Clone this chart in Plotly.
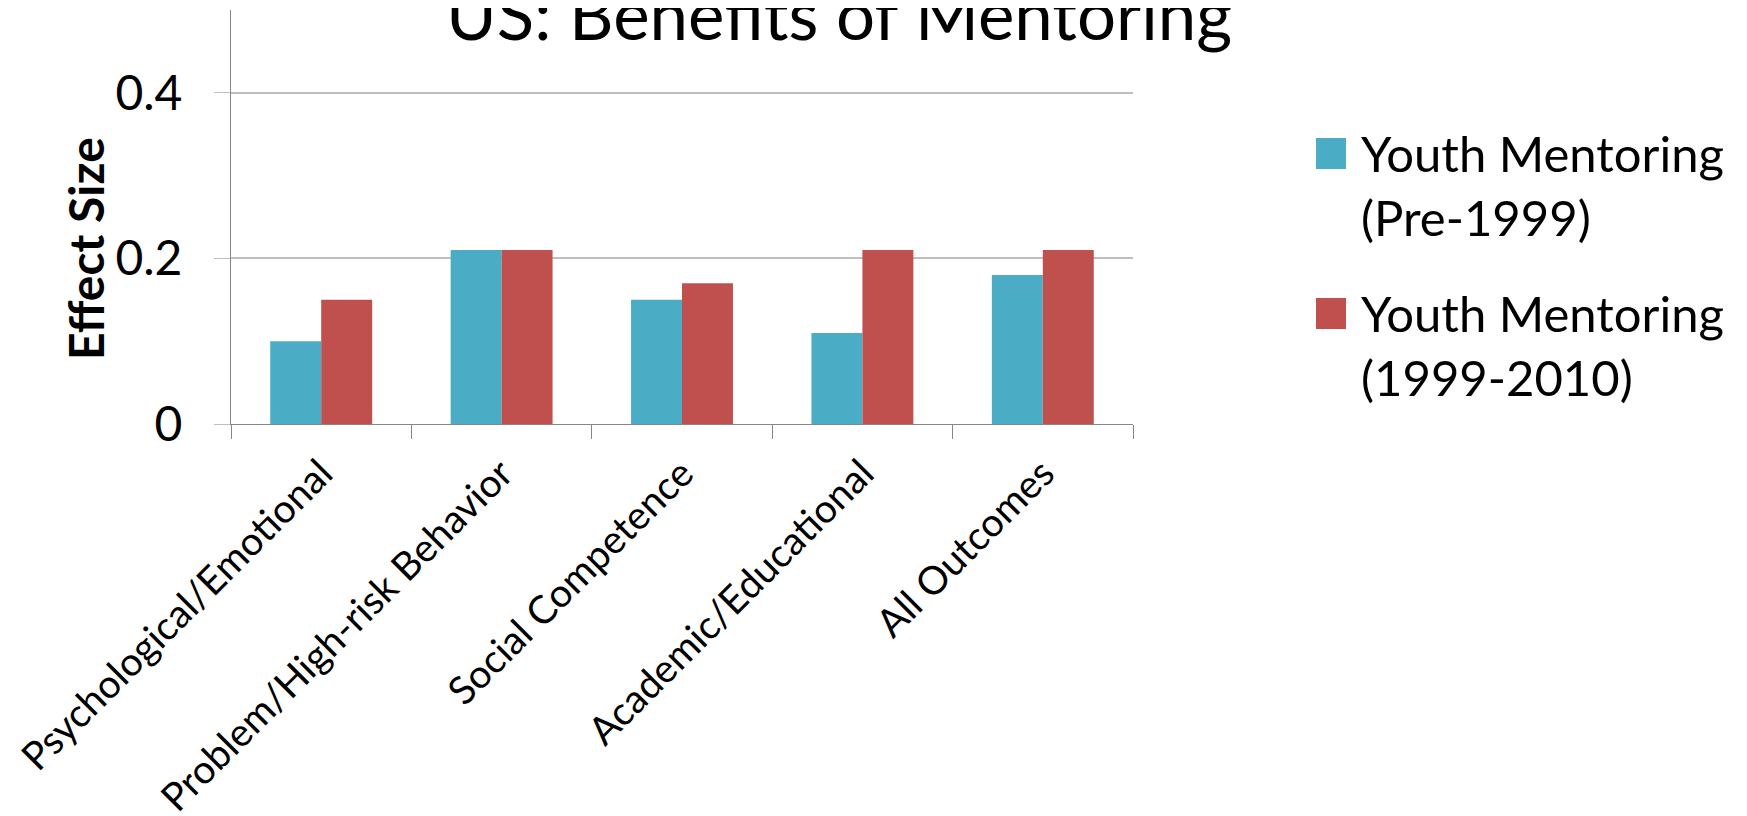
import plotly.graph_objects as go

categories = ["Psychological/Emotional", "Problem/High-risk Behavior",
              "Social Competence", "Academic/Educational", "All Outcomes"]
series_names = ["Youth Mentoring<br>(Pre-1999)", "Youth Mentoring<br>(1999-2010)"]
pre_1999 = [0.10, 0.21, 0.15, 0.11, 0.18]
y1999_2010 = [0.15, 0.21, 0.17, 0.21, 0.21]
series_values = [pre_1999, y1999_2010]
colors = ["#4BACC6", "#C0504D"]
y_tick_vals = [0, 0.2, 0.4]
y_tick_text = ["0", "0.2", "0.4"]

W, H = 1747, 816
OFF = 8  # default page body margin
L, R, T, B = 231, 1133, 10, 424
FONT = "Lato"

def px_x(p):
    return (p - L) / (R - L)

def px_y(p):
    return (B - p) / (B - T)

fig = go.Figure()
for name, vals, col in zip(series_names, series_values, colors):
    fig.add_trace(go.Bar(x=categories, y=vals, name=name,
                         marker=dict(color=col, line=dict(width=0)),
                         showlegend=False))

fig.update_layout(
    width=W - OFF, height=H - OFF,
    margin=dict(l=L - OFF, r=W - R, t=T - OFF, b=H - B, pad=0, autoexpand=False),
    paper_bgcolor="white", plot_bgcolor="white",
    barmode="group", bargap=0.435, bargroupgap=0,
    font=dict(family=FONT, color="black"),
)
fig.update_xaxes(
    type="category", tickson="boundaries", ticks="outside", ticklen=14,
    tickcolor="#868686", showline=True, linecolor="#868686", linewidth=1,
    tickangle=-45, tickfont=dict(size=39, family=FONT), showgrid=False,
    ticklabelstandoff=10, automargin=False,
)
fig.update_yaxes(
    range=[0, 0.5], tickvals=y_tick_vals, ticktext=y_tick_text,
    ticks="outside", ticklen=16, tickcolor="#BFBFBF",
    showline=True, linecolor="#868686", linewidth=1,
    showgrid=True, gridcolor="#BFBFBF", gridwidth=1.5, zeroline=False,
    tickfont=dict(size=48, family=FONT), ticklabelstandoff=22, automargin=False,
)

# Y-axis title
fig.add_annotation(text="<b>Effect Size</b>", xref="paper", yref="paper",
                   x=px_x(85), y=px_y(249), xanchor="center", yanchor="middle",
                   textangle=-90, showarrow=False, font=dict(size=48, family=FONT))

# Title
fig.add_annotation(text="US: Benefits of Mentoring", xref="paper", yref="paper",
                   x=px_x(839), y=px_y(13), xanchor="center", yanchor="middle",
                   showarrow=False, font=dict(size=69, family=FONT))

# Legend (drawn manually to match large swatches)
legend_tops = [138, 298]
for name, col, top in zip(series_names, colors, legend_tops):
    fig.add_shape(type="rect", xref="paper", yref="paper",
                  x0=px_x(1316), x1=px_x(1346), y0=px_y(top), y1=px_y(top + 31),
                  fillcolor=col, line=dict(width=0))
    fig.add_annotation(text=name, xref="paper", yref="paper",
                       x=px_x(1359), y=px_y(top - 16), xanchor="left", yanchor="top",
                       align="left", showarrow=False,
                       font=dict(size=49, family=FONT))

fig.write_html("out.html")
